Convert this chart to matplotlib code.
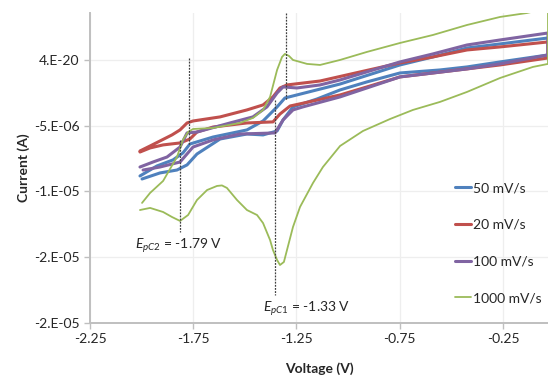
import matplotlib
matplotlib.use("Agg")
import matplotlib.pyplot as plt
import numpy as np

plt.rcParams['font.family'] = ['Lato', 'DejaVu Sans']
plt.rcParams['mathtext.fontset'] = 'custom'
plt.rcParams['mathtext.rm'] = 'Lato'
plt.rcParams['mathtext.it'] = 'Lato:italic'

# ---- data (voltage in V, current in microamps) ----
# each loop: forward (upper) branch left->right, then return (lower) branch right->left
v_50 = [-2.008, -1.926, -1.848, -1.800, -1.766, -1.654, -1.490, -1.412, -1.344, -1.306, -1.248,
        -1.039, -0.749, -0.589, -0.424, -0.264, -0.032,
        -0.032, -0.264, -0.424, -0.555, -0.749, -0.909, -1.039, -1.151, -1.267, -1.315, -1.344,
        -1.412, -1.490, -1.620, -1.732, -1.780, -1.829, -1.911, -1.998]
i_50 = [-8.82, -8.06, -7.60, -7.07, -6.39, -5.86, -5.32, -4.64, -3.57, -2.89, -2.66,
        -1.83, -0.38, 0.23, 0.91, 1.22, 1.67,
        0.38, -0.15, -0.53, -0.76, -0.99, -1.67, -2.28, -2.97, -3.57, -4.56, -5.40,
        -5.70, -5.63, -6.01, -7.15, -7.98, -8.37, -8.59, -9.05]

v_20 = [-2.008, -1.959, -1.911, -1.853, -1.814, -1.780, -1.751, -1.620, -1.490, -1.412, -1.364,
        -1.330, -1.296, -1.136, -0.942, -0.749, -0.589, -0.424, -0.264, -0.032,
        -0.032, -0.264, -0.424, -0.589, -0.749, -0.909, -1.039, -1.170, -1.281, -1.330, -1.364,
        -1.490, -1.654, -1.732, -1.766, -1.814, -1.896, -1.959, -2.008]
i_20 = [-6.92, -6.54, -6.16, -5.70, -5.32, -4.79, -4.64, -4.33, -3.80, -3.42, -2.81,
        -2.13, -1.90, -1.60, -0.91, -0.23, 0.23, 0.76, 0.99, 1.37,
        0.15, -0.38, -0.68, -0.99, -1.29, -2.05, -2.66, -3.12, -3.50, -4.11, -4.71,
        -4.79, -5.10, -5.48, -6.01, -6.31, -6.46, -6.69, -7.00]

v_100 = [-2.008, -1.945, -1.877, -1.814, -1.780, -1.732, -1.572, -1.461, -1.393, -1.344, -1.315,
         -1.248, -1.136, -1.039, -0.749, -0.589, -0.424, -0.264, -0.032,
         -0.032, -0.264, -0.424, -0.589, -0.749, -0.909, -1.039, -1.219, -1.267, -1.315, -1.354,
         -1.524, -1.654, -1.751, -1.814, -1.911, -1.993]
i_100 = [-8.14, -7.76, -7.38, -6.62, -5.55, -5.48, -4.79, -4.33, -3.57, -2.51, -2.05,
         -2.13, -1.90, -1.52, -0.15, 0.46, 1.14, 1.52, 2.05,
         0.38, -0.30, -0.68, -0.99, -1.29, -2.13, -2.81, -3.57, -3.80, -4.56, -5.55,
         -5.63, -6.08, -6.62, -7.76, -8.14, -8.37]

v_1000 = [-1.998, -1.959, -1.896, -1.829, -1.800, -1.775, -1.751, -1.654, -1.524, -1.461, -1.412,
          -1.378, -1.344, -1.320, -1.306, -1.286, -1.267, -1.199, -1.136, -1.039, -0.909, -0.749,
          -0.589, -0.424, -0.264, -0.134, -0.032,
          -0.032, -0.105, -0.264, -0.424, -0.555, -0.686, -0.797, -0.928, -1.039, -1.122, -1.170,
          -1.233, -1.267, -1.296, -1.311, -1.330, -1.344, -1.364, -1.378, -1.412, -1.441, -1.490,
          -1.538, -1.587, -1.611, -1.635, -1.683, -1.732, -1.775, -1.814, -1.853, -1.896, -1.959,
          -2.008]
i_1000 = [-10.87, -10.11, -9.20, -7.38, -6.08, -5.48, -5.25, -5.17, -4.79, -4.41, -3.80,
          -2.81, -0.76, 0.23, 0.46, 0.30, 0.0, -0.30, -0.38, 0.0, 0.61, 1.29,
          1.90, 2.66, 3.27, 3.57, 3.95,
          -0.30, -0.53, -1.37, -2.43, -3.19, -3.80, -4.49, -5.40, -6.54, -8.14, -9.35,
          -11.18, -12.70, -14.45, -15.36, -15.59, -15.21, -14.45, -13.69, -12.40, -11.79, -11.41,
          -10.65, -9.73, -9.54, -9.58, -9.89, -10.65, -11.79, -12.24, -11.94, -11.56, -11.25,
          -11.41]

series = [("50 mV/s", v_50, i_50, "#4F81BD", 2.2),
          ("20 mV/s", v_20, i_20, "#C0504D", 2.2),
          ("100 mV/s", v_100, i_100, "#8064A2", 2.2),
          ("1000 mV/s", v_1000, i_1000, "#9BBB59", 1.3)]

x_ticks = [-2.25, -1.75, -1.25, -0.75, -0.25]
x_ticklabels = ["-2.25", "-1.75", "-1.25", "-0.75", "-0.25"]
y_ticks = [-2.0e-5, -1.5e-5, -1.0e-5, -5.0e-6, 0.0]
y_ticklabels = ["-2.E-05", "-2.E-05", "-1.E-05", "-5.E-06", "4.E-20"]

# peak marker lines: (voltage, current top, current bottom) in microamps
peak_lines = [(-1.771, 0.15, -6.46), (-1.814, -6.08, -13.08),
              (-1.301, 3.57, -3.04), (-1.354, -3.04, -17.87)]
peak_labels = [(-2.03, -14.1, r"$E_{pC2}$ = -1.79 V"),
               (-1.41, -18.9, r"$E_{pC1}$ = -1.33 V")]

fig = plt.figure(figsize=(5.48, 3.77), dpi=100)
ax = fig.add_axes([90/548, 1-323/377, 458/548, 310/377])

for label, v, i, c, lw in series:
    ax.plot(v, np.array(i) * 1e-6, color=c, lw=lw, label=label, solid_joinstyle='round',
            solid_capstyle='round', zorder=3)

for v, top, bot in peak_lines:
    ax.plot([v, v], [top * 1e-6, bot * 1e-6], color='#404040', lw=0.9,
            linestyle=(0, (1.5, 1)), zorder=4)

for v, i, t in peak_labels:
    ax.text(v, i * 1e-6, t, fontsize=10, color='#262626', va='center', ha='left')

ax.set_xlim(-2.25, -0.032)
ax.set_ylim(-2.0e-5, 3.57e-6)
ax.set_xticks(x_ticks)
ax.set_xticklabels(x_ticklabels)
ax.set_yticks(y_ticks)
ax.set_yticklabels(y_ticklabels)
ax.tick_params(axis='both', labelsize=10, colors='#262626', length=4, width=1, direction='out')
ax.tick_params(axis='both', color='#BFBFBF')
ax.grid(True, color='#EEEEEE', lw=0.9, zorder=0)
ax.set_axisbelow(True)
for s in ['top', 'right']:
    ax.spines[s].set_visible(False)
for s in ['left', 'bottom']:
    ax.spines[s].set_color('#BFBFBF')
    ax.spines[s].set_linewidth(1.4)

ax.set_xlabel("Voltage (V)", fontsize=10, fontweight='bold', color='#262626', labelpad=12)
ax.set_ylabel("Current (A)", fontsize=10, fontweight='bold', color='#262626', labelpad=3)

leg = fig.legend(loc='upper left', bbox_to_anchor=(455/548, 1-182/377), frameon=False,
                 fontsize=10, handlelength=1.15, handletextpad=0.15, labelspacing=1.78,
                 borderpad=0, borderaxespad=0)
for t in leg.get_texts():
    t.set_color('#262626')

fig.savefig("out.png", dpi=100)
